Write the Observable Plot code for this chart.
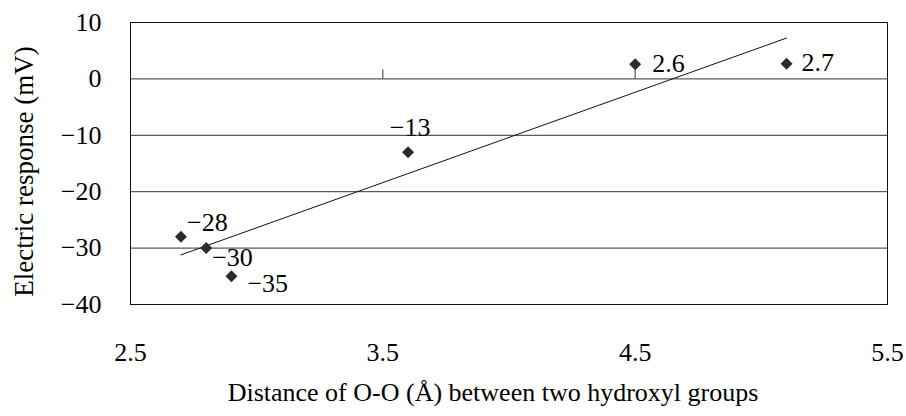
<!DOCTYPE html>
<html>
<head>
<meta charset="utf-8">
<script src="https://cdn.jsdelivr.net/npm/d3@7"></script>
<script src="https://cdn.jsdelivr.net/npm/@observablehq/plot@0.6"></script>
<style>
  html, body { margin: 0; padding: 0; background: #fff; }
  #chart svg { display: block; font-family: "Liberation Serif", "Times New Roman", serif; }
</style>
</head>
<body>
<div id="chart"></div>
<script>
// Data
const distances = [2.7, 2.8, 2.9, 3.6, 4.5, 5.1];
const responses = [-28, -30, -35, -13, 2.6, 2.7];
const pointLabels = ["−28", "−30", "−35", "−13", "2.6", "2.7"];
const xTicks = [2.5, 3.5, 4.5, 5.5];
const yTicks = [10, 0, -10, -20, -30, -40];
const xTitle = "Distance of O-O (Å) between two hydroxyl groups";
const yTitle = "Electric response (mV)";

const data = distances.map((d, i) => ({x: d, y: responses[i], label: pointLabels[i]}));

// Label placement (layout only)
const placement = [
  {dx: 6, dy: -14, anchor: "start"},
  {dx: 6, dy: 10, anchor: "start"},
  {dx: 16, dy: 7, anchor: "start"},
  {dx: 2, dy: -25, anchor: "middle"},
  {dx: 17, dy: -1, anchor: "start"},
  {dx: 15, dy: -1, anchor: "start"}
];

const fmt = d => String(d).replace("-", "−");
const ink = "#111";
const grid = "#333";
const font = "Liberation Serif";
const fs = 26;

const chart = Plot.plot({
  width: 906,
  height: 416,
  marginLeft: 130,
  marginRight: 19,
  marginTop: 22,
  marginBottom: 112,
  style: {background: "#fff", color: "#000"},
  x: {domain: [2.5, 5.5]},
  y: {domain: [-40, 10]},
  marks: [
    Plot.ruleY(yTicks, {stroke: grid, strokeWidth: 1}),
    Plot.frame({stroke: ink, strokeWidth: 1}),
    Plot.ruleX(xTicks.slice(1, -1), {y1: 0, y2: 1.6, stroke: grid, strokeWidth: 1}),
    Plot.axisY({ticks: yTicks, tickSize: 0, tickPadding: 29, tickFormat: fmt, fontFamily: font, fontSize: fs, label: null}),
    Plot.axisX({ticks: xTicks, tickSize: 0, tickPadding: 38, tickFormat: d3.format(".1f"), fontFamily: font, fontSize: fs, label: null}),
    Plot.text([yTitle], {frameAnchor: "left", rotate: -90, textAnchor: "middle", lineAnchor: "middle",
      dx: -106, dy: 8, fontFamily: font, fontSize: 27, fill: "#000"}),
    Plot.text([xTitle], {frameAnchor: "bottom", textAnchor: "middle", lineAnchor: "middle",
      dx: -16, dy: 88, fontFamily: font, fontSize: fs, fill: "#000"}),
    Plot.linearRegressionY(data, {x: "x", y: "y", ci: 0, stroke: ink, strokeWidth: 1}),
    Plot.dot(data, {x: "x", y: "y", symbol: "diamond2", r: 5.4, fill: "#2b2b2b", stroke: "none"}),
    ...data.map((d, i) => Plot.text([d], {x: "x", y: "y", text: "label", fontFamily: font, fontSize: fs,
      dx: placement[i].dx, dy: placement[i].dy, textAnchor: placement[i].anchor, fill: "#000"}))
  ]
});
document.getElementById("chart").appendChild(chart);
</script>
</body>
</html>
